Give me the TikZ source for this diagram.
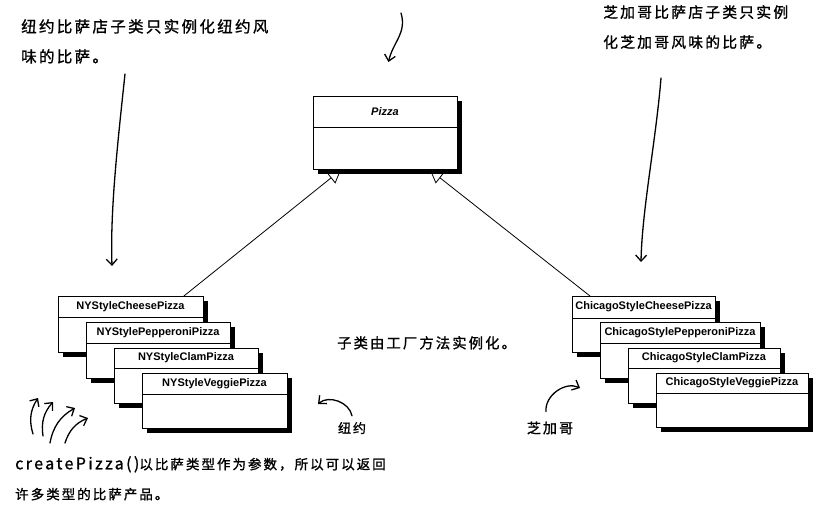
\documentclass[tikz,border=0pt]{standalone}
\usepackage{fontspec}
\newfontfamily\umlfont{Liberation Sans}
\newfontfamily\handfont[LetterSpace=15,FakeBold=1.2]{Noto Sans CJK SC}
\usetikzlibrary{arrows.meta,shadows}

\tikzset{
  classbox/.style={draw, line width=0.9pt, fill=white, inner sep=0pt,
    drop shadow={shadow xshift=5pt, shadow yshift=-5pt, fill=black, opacity=1}},
  classname/.style={font=\umlfont\fontsize{11}{13}\selectfont\bfseries, inner sep=0pt},
  handnote/.style={font=\handfont\fontsize{#1}{30}\selectfont, align=left,
    inner sep=0pt, anchor=north west},
  handnote/.default=14,
  scribble/.style={line width=1.3pt, line cap=round,
    -{Straight Barb[length=6pt,width=11pt]}},
  isa/.style={line width=0.8pt, -{Triangle[open,length=13pt,width=14pt,line width=0.8pt]}}
}

% name, x, y, width, header height, body height, text
\newcommand{\umlclass}[7]{%
  \node[classbox, minimum width=#4pt, minimum height={#5pt+#6pt}, anchor=north west]
    (#1) at (#2,#3) {};
  \draw[line width=0.9pt] ({#2},{#3+#5}) -- ++(#4,0);
  \node[classname] (#1-name) at ({#2+#4/2},{#3+#5/2}) {#7};
}

\begin{document}
\begin{tikzpicture}[x=1pt,y=-1pt]
  \useasboundingbox (0,0) rectangle (824,509);

  % classes
  \umlclass{pizza}{313}{96}{144}{31}{42}{\itshape Pizza}
  \umlclass{nycheese}{58}{296}{145}{21}{35}{NYStyleCheesePizza}
  \umlclass{nypepperoni}{86}{322}{144}{21}{35}{NYStylePepperoniPizza}
  \umlclass{nyclam}{114}{348}{144}{20}{35}{NYStyleClamPizza}
  \umlclass{nyveggie}{142}{373}{145}{21}{34}{NYStyleVeggiePizza}
  \umlclass{chicheese}{572}{296}{143}{22}{34}{ChicagoStyleCheesePizza}
  \umlclass{chipepperoni}{600}{322}{160}{21}{35}{ChicagoStylePepperoniPizza}
  \umlclass{chiclam}{628}{348}{152}{20}{35}{ChicagoStyleClamPizza}
  \umlclass{chiveggie}{656}{373}{152}{20}{34}{ChicagoStyleVeggiePizza}

  \draw[isa] ([xshift=-20pt]nycheese.north east) -- ([xshift=28pt]pizza.south west);
  \draw[isa] ([xshift=18pt]chicheese.north west) -- ([xshift=-28pt]pizza.south east);

  % notes
  \node[handnote=15.5] (nynote) at (21,19) {纽约比萨店子类只实例化纽约风\\味的比萨。};
  \node[handnote=14.8] (chinote) at (603,5) {芝加哥比萨店子类只实例\\化芝加哥风味的比萨。};
  \node[handnote=14.3] (factorynote) at (337,336) {子类由工厂方法实例化。};
  \node[handnote=13.5] (paramnote) at (15,456) {{\fontsize{16}{30}\selectfont createPizza()}以比萨类型作为参数，所以可以返回\\许多类型的比萨产品。};
  \node[handnote=13, anchor=center] (nylabel) at (352,428) {纽约};
  \node[handnote=14, anchor=center] (chilabel) at (550,428) {芝加哥};

  % scribbled arrows
  \coordinate (pizzaFrom) at (401,13);
  \coordinate (nyFrom) at (125,74);
  \coordinate (nyTo) at (112,266);
  \coordinate (chiFrom) at (661,78);
  \coordinate (chiTo) at (641,262);
  \draw[scribble] (pizzaFrom) .. controls (407,33) and (393,42) .. ([xshift=3pt,yshift=34pt]pizza.north);
  \draw[scribble] (nyFrom) .. controls (118,140) and (110,210) .. (nyTo);
  \draw[scribble] (chiFrom) .. controls (656,140) and (642,210) .. (chiTo);
  \foreach \i/\sx/\sy/\ex/\ey in {1/33/434/38/398, 2/43/436/53/402, 3/50/443/75/408, 4/65/443/88/418}{
    \coordinate (paramFrom\i) at (\sx,\sy);
    \coordinate (paramTo\i) at (\ex,\ey);
    \draw[scribble] (paramFrom\i) to[bend left=25] (paramTo\i);
  }
  \coordinate (nyLabelTo) at (318,404);
  \coordinate (chiLabelTo) at (580,388);
  \draw[scribble] ([yshift=6pt]nylabel.north) to[bend right=60] (nyLabelTo);
  \draw[scribble] ([xshift=-4pt,yshift=10pt]chilabel.north) to[bend left=60] (chiLabelTo);
\end{tikzpicture}
\end{document}
